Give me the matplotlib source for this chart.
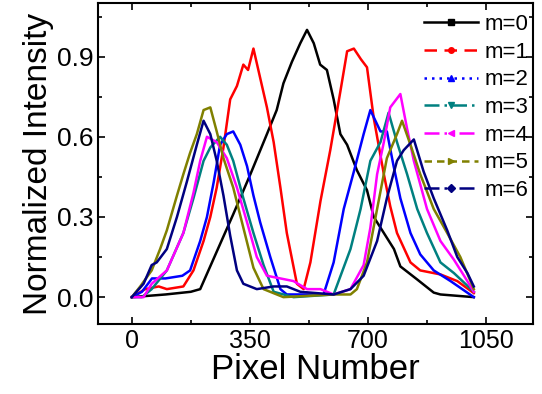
import numpy as np
from matplotlib import pyplot as plt
from matplotlib.lines import Line2D

plt.rcParams['font.family'] = ['Liberation Sans', 'DejaVu Sans']

# Series (pixel number, normalized intensity)
x0 = [0, 100, 175, 203, 252, 301, 352, 401, 430, 450, 475, 500, 520, 540, 559, 579, 599, 619, 639, 668, 698, 718, 748, 778, 797, 847, 896, 916, 1015]
y0 = [0.0, 0.01, 0.02, 0.03, 0.17, 0.31, 0.46, 0.61, 0.7, 0.8, 0.88, 0.95, 1.0, 0.95, 0.87, 0.85, 0.74, 0.61, 0.57, 0.475, 0.4, 0.3, 0.24, 0.18, 0.115, 0.066, 0.017, 0.01, 0.0]

x1 = [0, 40, 80, 104, 153, 183, 213, 233, 252, 272, 292, 312, 331, 345, 361, 381, 401, 421, 441, 460, 490, 510, 530, 560, 589, 619, 639, 659, 680, 698, 718, 748, 767, 787, 827, 856, 916, 966, 1015]
y1 = [0.0, 0.03, 0.04, 0.03, 0.04, 0.1, 0.21, 0.3, 0.41, 0.56, 0.74, 0.79, 0.87, 0.85, 0.93, 0.82, 0.71, 0.58, 0.41, 0.24, 0.05, 0.03, 0.13, 0.36, 0.55, 0.77, 0.92, 0.93, 0.89, 0.86, 0.67, 0.46, 0.34, 0.24, 0.13, 0.1, 0.085, 0.06, 0.015]

x2 = [0, 30, 60, 100, 150, 173, 203, 223, 243, 262, 282, 301, 322, 342, 361, 381, 411, 441, 460, 520, 569, 599, 629, 659, 688, 708, 738, 757, 777, 797, 827, 856, 896, 946, 1015]
y2 = [0.0, 0.02, 0.07, 0.07, 0.08, 0.1, 0.21, 0.3, 0.43, 0.57, 0.61, 0.62, 0.57, 0.49, 0.38, 0.28, 0.15, 0.03, 0.01, 0.01, 0.01, 0.13, 0.33, 0.47, 0.61, 0.7, 0.62, 0.62, 0.49, 0.37, 0.24, 0.16, 0.1, 0.06, 0.0]

x3 = [0, 30, 59, 104, 153, 183, 213, 233, 262, 282, 301, 331, 361, 391, 421, 480, 599, 649, 679, 708, 738, 762, 787, 817, 847, 876, 916, 956, 1015]
y3 = [0.0, 0.0, 0.03, 0.1, 0.24, 0.37, 0.51, 0.56, 0.6, 0.57, 0.51, 0.37, 0.24, 0.12, 0.02, 0.0, 0.01, 0.18, 0.33, 0.51, 0.58, 0.69, 0.58, 0.46, 0.33, 0.24, 0.13, 0.09, 0.02]

x4 = [0, 35, 59, 104, 153, 183, 203, 223, 252, 282, 312, 342, 371, 401, 441, 480, 520, 560, 599, 649, 688, 708, 728, 748, 767, 797, 817, 837, 876, 916, 956, 986, 1015]
y4 = [0.0, 0.0, 0.05, 0.1, 0.24, 0.39, 0.51, 0.6, 0.58, 0.52, 0.41, 0.28, 0.15, 0.08, 0.07, 0.06, 0.03, 0.03, 0.01, 0.03, 0.12, 0.26, 0.46, 0.58, 0.71, 0.76, 0.63, 0.51, 0.33, 0.21, 0.14, 0.08, 0.02]

x5 = [0, 25, 59, 84, 104, 134, 153, 173, 193, 213, 233, 252, 272, 301, 331, 361, 391, 450, 599, 649, 668, 698, 728, 757, 787, 802, 827, 856, 896, 936, 975, 1015]
y5 = [0.0, 0.04, 0.1, 0.18, 0.25, 0.38, 0.46, 0.54, 0.61, 0.7, 0.71, 0.62, 0.52, 0.41, 0.26, 0.11, 0.03, 0.0, 0.01, 0.01, 0.03, 0.13, 0.33, 0.52, 0.61, 0.66, 0.57, 0.46, 0.33, 0.24, 0.15, 0.03]

x6 = [0, 35, 59, 74, 104, 134, 163, 193, 213, 233, 252, 272, 292, 312, 331, 371, 421, 460, 500, 599, 649, 688, 728, 757, 787, 807, 837, 866, 896, 936, 966, 996, 1015]
y6 = [0.0, 0.05, 0.12, 0.13, 0.18, 0.3, 0.43, 0.57, 0.66, 0.61, 0.51, 0.38, 0.23, 0.1, 0.05, 0.03, 0.04, 0.04, 0.02, 0.01, 0.03, 0.08, 0.21, 0.37, 0.51, 0.55, 0.59, 0.47, 0.37, 0.25, 0.15, 0.09, 0.04]

labels = ['m=0', 'm=1', 'm=2', 'm=3', 'm=4', 'm=5', 'm=6']
colors = ['black', 'red', 'blue', '#008080', 'magenta', '#808000', '#000080']
styles = ['-', (0, (5, 3)), (0, (1, 2)), (0, (6, 2, 1, 2)), (0, (6, 2, 1, 2, 1, 2)), (0, (3, 2)), (0, (6, 2, 1, 2, 1, 2))]
markers = ['s', 'o', '^', 'v', '<', '>', 'D']

xs = [x0, x1, x2, x3, x4, x5, x6]
ys = [y0, y1, y2, y3, y4, y5, y6]

fig = plt.figure(figsize=(5.42, 3.94), dpi=100)
ax = fig.add_axes([0.181, 0.178, 0.802, 0.814])

for i in range(len(xs)):
    ax.plot(xs[i], ys[i], color=colors[i], lw=1.8)

# Legend handles use the original dash styles and markers
handles = []
for i in range(len(labels)):
    handles.append(Line2D([], [], color=colors[i], lw=1.8, linestyle=styles[i],
                          marker=markers[i], markersize=4, markevery=[1]))
ax.legend(handles, labels, loc='upper right', frameon=False, fontsize=16,
          handlelength=2.4, handletextpad=0.3, labelspacing=0.3,
          borderaxespad=0.0, borderpad=0.2, bbox_to_anchor=(1.0, 0.98))

ax.set_xlim(-100, 1190)
ax.set_ylim(-0.1, 1.1)
ax.set_xticks([0, 350, 700, 1050])
ax.set_xticks([175, 525, 875], minor=True)
ax.set_yticks([0.0, 0.3, 0.6, 0.9])
ax.set_yticklabels(['0.0', '0.3', '0.6', '0.9'])
ax.set_yticks([0.15, 0.45, 0.75, 1.05], minor=True)
ax.tick_params(which='both', direction='in', top=True, right=True, width=1.2)
ax.tick_params(axis='y', labelsize=19)
ax.tick_params(axis='x', labelsize=18)
ax.tick_params(which='major', length=5)
ax.tick_params(which='minor', length=3)
for s in ax.spines.values():
    s.set_linewidth(1.5)

ax.set_xlabel('Pixel Number', fontsize=25, labelpad=0)
ax.set_ylabel('Normalized Intensity', fontsize=24, labelpad=2)

fig.savefig('out.png', dpi=100)
